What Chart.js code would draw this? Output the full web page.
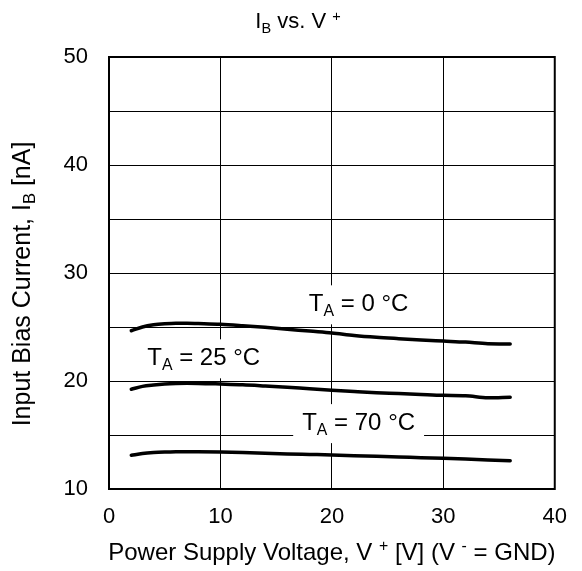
<!DOCTYPE html>
<html>
<head>
<meta charset="utf-8">
<script src="https://cdn.jsdelivr.net/npm/chart.js@4/dist/chart.umd.min.js"></script>
<style>
  html, body { margin: 0; padding: 0; background: #fff; }
  #wrap { width: 582px; height: 571px; }
</style>
</head>
<body>
<div id="wrap"><canvas id="graf"></canvas></div>
<script>
// supply voltage V+ [V]
let voltage = [2, 3, 4, 5, 6, 7, 8, 10, 12, 14, 16, 18, 20, 22, 24, 26, 28, 30, 32, 34, 36]
// input bias current [nA]
let ib_0C  = [24.65, 25.0, 25.2, 25.3, 25.35, 25.35, 25.32, 25.25, 25.12, 24.97, 24.8, 24.62, 24.45, 24.22, 24.05, 23.92, 23.8, 23.7, 23.6, 23.45, 23.43]
let ib_25C = [19.23, 19.5, 19.63, 19.72, 19.77, 19.79, 19.78, 19.72, 19.65, 19.54, 19.42, 19.28, 19.15, 19.03, 18.92, 18.84, 18.75, 18.67, 18.64, 18.45, 18.5]
let ib_70C = [13.12, 13.28, 13.37, 13.42, 13.45, 13.46, 13.45, 13.42, 13.37, 13.31, 13.25, 13.2, 13.15, 13.09, 13.03, 12.97, 12.9, 12.84, 12.77, 12.69, 12.62]
let xTicks = [0, 10, 20, 30, 40]
let yTicks = [10, 20, 30, 40, 50]
// curve labels: [text pieces, x in V, y in nA]
let labels = [
  [[["T"], ["A", "sub"], [" = 0 °C"]], 22.4, 27.1],
  [[["T"], ["A", "sub"], [" = 25 °C"]], 8.5, 22.1],
  [[["T"], ["A", "sub"], [" = 70 °C"]], 22.4, 16.1]
]

const FONT = "Arial, 'Liberation Sans', sans-serif"

function pts(ys){
  let out = []
  for(let i=0;i<voltage.length;i++){
    out.push({x: voltage[i], y: ys[i]})
  }
  return out
}

// draw text made of normal / sub / sup pieces
function richWidth(ctx, parts, size){
  let w = 0
  for(let p of parts){
    let s = p[1] ? size*0.66 : size
    ctx.font = s + "px " + FONT
    w += ctx.measureText(p[0]).width
  }
  return w
}
function richText(ctx, parts, x, y, size){
  let w = richWidth(ctx, parts, size)
  let cx = x - w/2
  ctx.textBaseline = "middle"
  ctx.textAlign = "left"
  ctx.fillStyle = "#000"
  for(let p of parts){
    let s = p[1] ? size*0.66 : size
    let dy = 0
    if(p[1]=="sub") dy = size*0.3
    if(p[1]=="sup") dy = -size*0.25
    ctx.font = s + "px " + FONT
    ctx.fillText(p[0], cx, y+dy)
    cx += ctx.measureText(p[0]).width
  }
  return w
}

const decor = {
  id: "decor",
  beforeDatasetsDraw(chart){
    const ctx = chart.ctx
    const a = chart.chartArea
    const xs = chart.scales.x, ys = chart.scales.y
    ctx.save()
    ctx.strokeStyle = "#000"
    ctx.lineWidth = 2
    ctx.strokeRect(a.left, a.top, a.right-a.left, a.bottom-a.top)
    for(let l of labels){
      let px = xs.getPixelForValue(l[1])
      let py = ys.getPixelForValue(l[2])
      let w = richWidth(ctx, l[0], 24)
      ctx.fillStyle = "#fff"
      ctx.fillRect(px - w/2 - 9, py - 19, w + 18, 39)
      richText(ctx, l[0], px, py, 24)
    }
    ctx.restore()
  },
  afterDraw(chart){
    const ctx = chart.ctx
    const a = chart.chartArea
    ctx.save()
    richText(ctx, [["I"], ["B", "sub"], [" vs. V "], ["+", "sup"]], 298, 22, 22)
    richText(ctx, [["Power Supply Voltage, V "], ["+", "sup"], [" [V] (V "], ["-", "sup"], [" = GND)"]], (a.left+a.right)/2, 553, 24)
    ctx.translate(23, 284)
    ctx.rotate(-Math.PI/2)
    richText(ctx, [["Input Bias Current, I"], ["B", "sub"], [" [nA]"]], 0, 0, 25)
    ctx.restore()
  }
}

const line = (ys) => ({
  data: pts(ys),
  showLine: true,
  borderColor: "#000",
  backgroundColor: "#000",
  borderWidth: 3.5,
  pointRadius: 0,
  tension: 0.4,
  cubicInterpolationMode: "monotone",
  borderCapStyle: "round",
  fill: false
})

new Chart(document.getElementById("graf"), {
  type: "scatter",
  data: {
    datasets: [line(ib_0C), line(ib_25C), line(ib_70C)]
  },
  plugins: [decor],
  options: {
    responsive: true,
    maintainAspectRatio: false,
    animation: false,
    layout: { padding: { top: 57, right: 20, left: 0, bottom: 0 } },
    plugins: {
      legend: { display: false },
      tooltip: { enabled: false }
    },
    scales: {
      x: {
        type: "linear",
        min: 0, max: 40,
        afterFit(s){ s.height = 82 },
        afterBuildTicks(s){ s.ticks = xTicks.map(v => ({value: v})) },
        grid: { color: "#000", lineWidth: 1, drawTicks: false },
        border: { display: false },
        ticks: { color: "#000", font: { family: FONT, size: 22 }, padding: 15, maxRotation: 0 }
      },
      y: {
        type: "linear",
        min: 10, max: 50,
        afterFit(s){ s.width = 109 },
        ticks: {
          stepSize: 5,
          color: "#000",
          font: { family: FONT, size: 22 },
          padding: 21,
          callback: (v) => yTicks.includes(v) ? String(v) : ""
        },
        grid: { color: "#000", lineWidth: 1, drawTicks: false },
        border: { display: false }
      }
    }
  }
})
</script>
</body>
</html>
